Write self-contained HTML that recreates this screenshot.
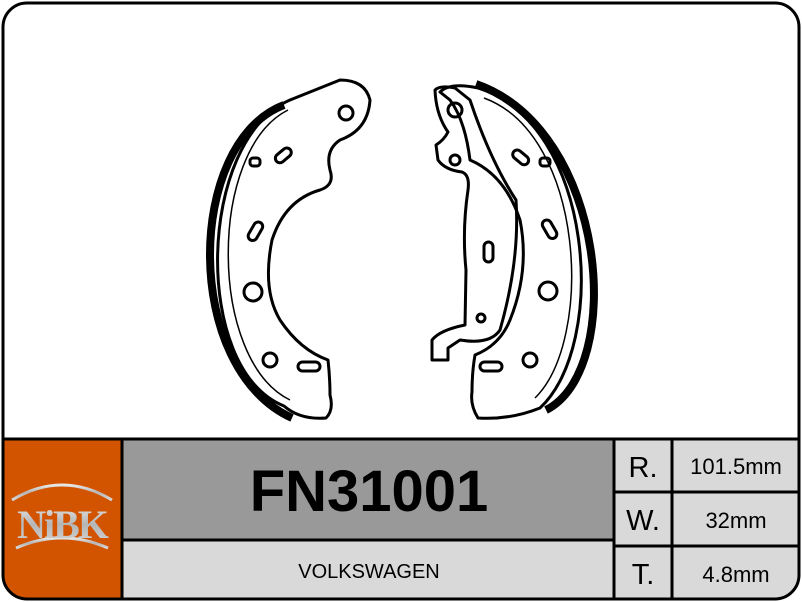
<!DOCTYPE html>
<html><head><style>
html,body{margin:0;padding:0;background:#fff}
body{width:802px;height:602px;position:relative;overflow:hidden;font-family:"Liberation Sans",Arial,sans-serif}
</style></head><body>
<svg width="802" height="602" viewBox="0 0 802 602" xmlns="http://www.w3.org/2000/svg" style="position:absolute;left:0;top:0">
<defs><clipPath id="c"><rect x="3" y="3" width="796" height="596" rx="24"/></clipPath>
<linearGradient id="m" x1="0" y1="0" x2="0" y2="1"><stop offset="0" stop-color="#e8e8e8"/><stop offset="0.5" stop-color="#b5b5b5"/><stop offset="1" stop-color="#d8d8d8"/></linearGradient></defs>
<g clip-path="url(#c)">
<rect x="0" y="440" width="122" height="162" fill="#d35400"/>
<rect x="122" y="440" width="492" height="100" fill="#999"/>
<rect x="122" y="540" width="492" height="62" fill="#d9d9d9"/>
<rect x="614" y="440" width="188" height="162" fill="#d9d9d9"/>
</g>
<g stroke="#000" stroke-width="3" fill="none">
<line x1="3" y1="439" x2="799" y2="439"/>
<line x1="122" y1="439" x2="122" y2="600"/>
<line x1="122" y1="540" x2="614" y2="540"/>
<line x1="614" y1="439" x2="614" y2="600"/>
<line x1="672" y1="439" x2="672" y2="600"/>
<line x1="614" y1="492" x2="799" y2="492"/>
<line x1="614" y1="546" x2="799" y2="546"/>
<rect x="3" y="3" width="796" height="596" rx="24"/>
</g>
<!-- logo -->
<path d="M12 500 Q62 470 112 500" stroke="url(#m)" stroke-width="3" fill="none"/>
<path d="M16 548 Q62 528 108 548" stroke="url(#m)" stroke-width="3" fill="none"/>
<text x="62" y="538" text-anchor="middle" font-family="Liberation Serif,serif" font-weight="bold" font-size="40" fill="url(#m)" letter-spacing="-2">NiBK</text>
<text x="369" y="511" text-anchor="middle" font-weight="bold" font-size="58" fill="#000">FN31001</text>
<text x="369" y="578" text-anchor="middle" font-size="20" fill="#000">VOLKSWAGEN</text>
<text x="643" y="477" text-anchor="middle" font-size="29">R.</text>
<text x="643" y="530" text-anchor="middle" font-size="29">W.</text>
<text x="643" y="584" text-anchor="middle" font-size="29">T.</text>
<text x="736" y="474" text-anchor="middle" font-size="22">101.5mm</text>
<text x="736" y="528" text-anchor="middle" font-size="22">32mm</text>
<text x="736" y="582" text-anchor="middle" font-size="22">4.8mm</text>
<!-- left shoe -->
<g fill="none" stroke="#000" stroke-width="3" stroke-linejoin="round">
<path d="M284 105 C 186 142, 182 368, 292 418" stroke-width="8"/>
<path d="M290 100 L340 80 Q365 80 370 100 Q368 130 340 140 Q325 150 330 170 Q335 185 320 190 Q285 200 272 240 Q262 290 280 320 Q300 350 328 360 Q330 378 330 395 Q334 410 326 418 Q300 420 284 406 C 192 370, 197 140, 290 100 Z"/>
<path d="M288 110 C 208 150, 208 360, 290 400" stroke-width="1.5"/>
<circle cx="346" cy="113" r="7"/>
<circle cx="253" cy="292" r="9"/>
<circle cx="270" cy="360" r="7"/>
<rect x="274" y="151" width="18" height="9" rx="4.5" transform="rotate(-40 283 155)"/>
<rect x="245" y="227" width="20" height="9" rx="4.5" transform="rotate(-60 255 231)"/>
<rect x="298" y="362" width="22" height="9" rx="4.5"/>
<rect x="250" y="158" width="10" height="8" rx="3"/>
</g>
<!-- right shoe -->
<g fill="none" stroke="#000" stroke-width="3" stroke-linejoin="round">
<path d="M476 84 C 608 130, 626 370, 546 410" stroke-width="8"/>
<path d="M478 88 C 595 125, 608 345, 540 408 Q510 420 478 418 Q470 405 472 392 Q472 372 475 355 Q500 345 510 320 Q530 270 520 220 Q505 175 470 160 Q465 120 450 100 L440 92 Q450 82 478 88 Z"/>
<path d="M484 98 C 585 135, 594 340, 535 398" stroke-width="1.5"/>
<path d="M435 90 Q440 85 455 88 L470 100 Q490 160 516 200 Q520 260 500 330 Q490 345 460 340 L448 348 L448 360 L432 360 L432 340 Q440 330 465 325 L466 270 Q462 230 468 190 Q470 175 462 172 Q445 170 438 160 L436 145 Q444 140 448 132 Q436 115 435 90 Z"/>
<circle cx="455" cy="110" r="7"/>
<circle cx="455" cy="160" r="5"/>
<circle cx="481" cy="318" r="4"/>
<rect x="484" y="242" width="9" height="20" rx="4.5"/>
<circle cx="548" cy="291" r="9"/>
<circle cx="530" cy="360" r="7"/>
<rect x="480" y="362" width="22" height="9" rx="4.5"/>
<rect x="540" y="225" width="20" height="9" rx="4.5" transform="rotate(60 550 229)"/>
<rect x="512" y="153" width="18" height="9" rx="4.5" transform="rotate(40 521 157)"/>
<rect x="540" y="158" width="10" height="8" rx="3"/>
</g>
</svg>
</body></html>
